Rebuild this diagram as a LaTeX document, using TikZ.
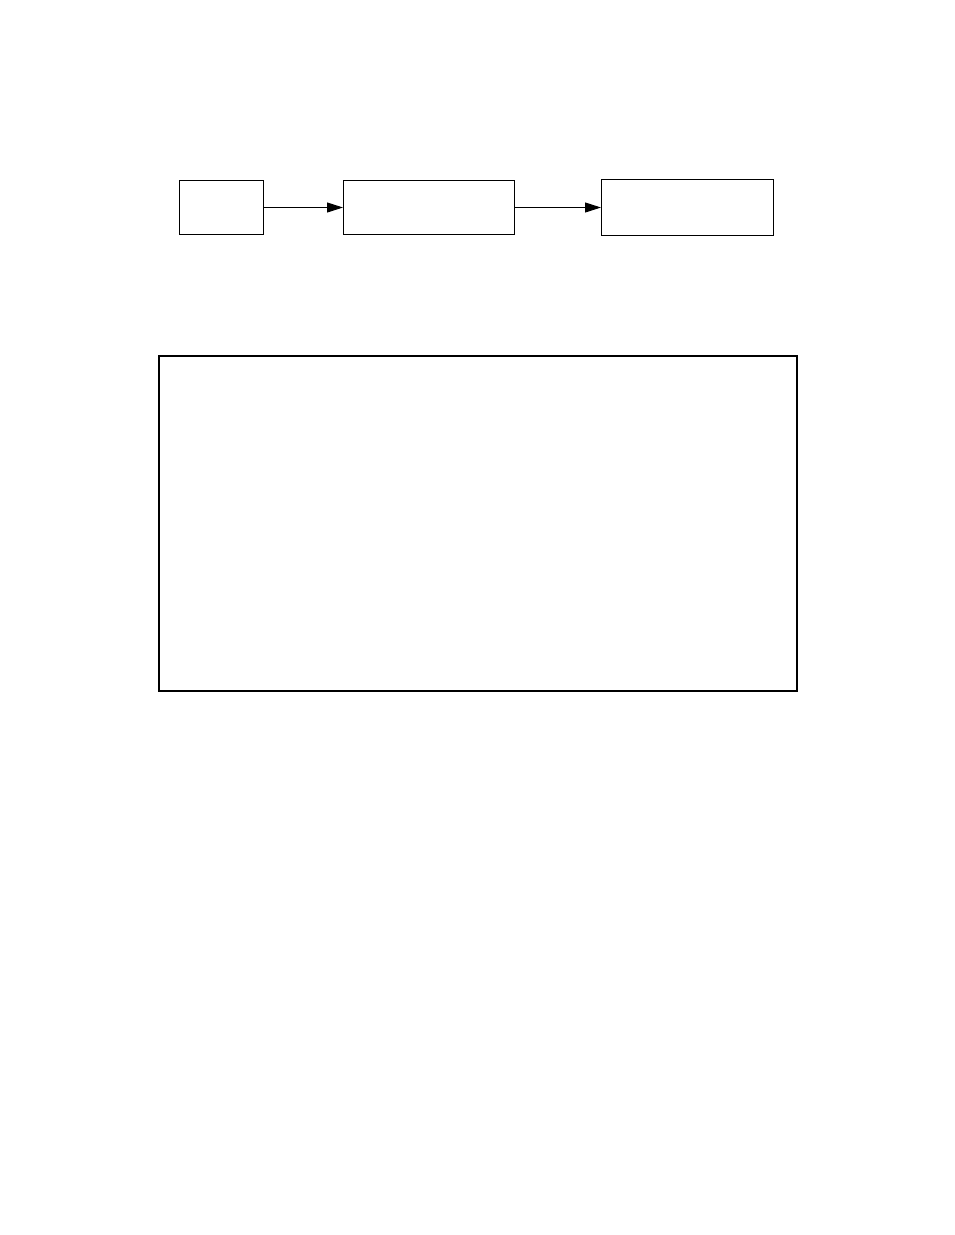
\documentclass[tikz,border=0pt]{standalone}
\usetikzlibrary{arrows.meta}
\begin{document}
\begin{tikzpicture}[x=1pt,y=-1pt,
  smallbox/.style={draw=black,line width=1pt,inner sep=0pt,anchor=north west},
  bigbox/.style={draw=black,line width=2pt,inner sep=0pt,anchor=north west},
  flow/.style={draw=black,line width=1pt,-{Triangle[length=16pt,width=10pt]}}]
\useasboundingbox (0,0) rectangle (954,1235);
\node[smallbox,minimum width=84pt,minimum height=54pt] (a) at (179,180) {};
\node[smallbox,minimum width=171pt,minimum height=54pt] (b) at (343,180) {};
\node[smallbox,minimum width=172pt,minimum height=56pt] (c) at (601,179) {};
\node[bigbox,minimum width=638pt,minimum height=335pt] (d) at (158,355) {};
\draw[flow] (a.east) -- (b.west);
\draw[flow] (b.east) -- (c.west);
\end{tikzpicture}
\end{document}
